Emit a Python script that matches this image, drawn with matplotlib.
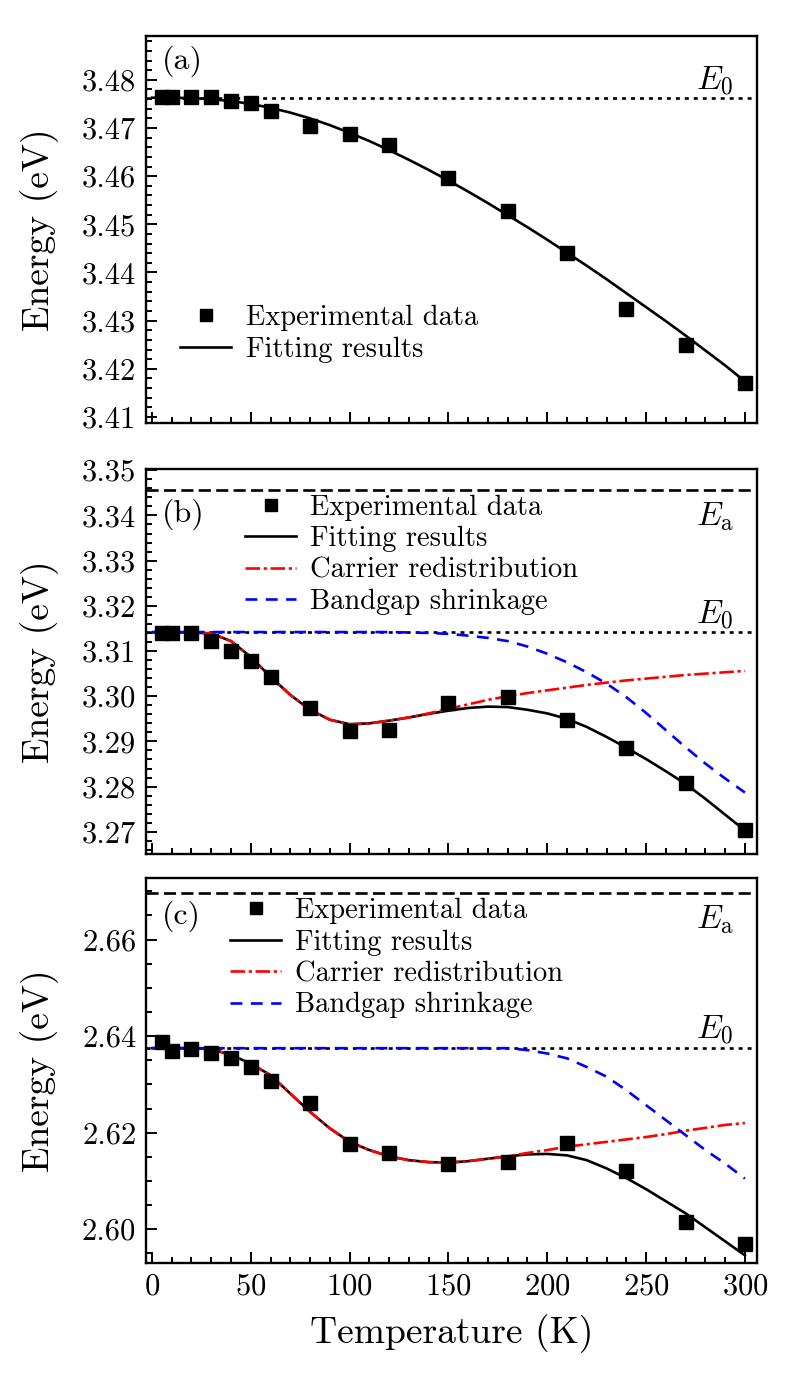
import numpy as np
import matplotlib.pyplot as plt
from matplotlib.ticker import MultipleLocator, FormatStrFormatter

plt.rcParams['font.family'] = 'serif'
plt.rcParams['font.serif'] = ['cmr10']
plt.rcParams['mathtext.fontset'] = 'cm'
plt.rcParams['axes.formatter.use_mathtext'] = True

# measured temperatures (K)
T_exp = [5, 10, 20, 30, 40, 50, 60, 80, 100, 120, 150, 180, 210, 240, 270, 300]
T_fit = list(range(0, 301, 10))

# panel (a)
E_exp_a = [3.4765, 3.4765, 3.4765, 3.4765, 3.4756, 3.4752, 3.4736, 3.4704, 3.4688, 3.4665,
           3.4596, 3.4528, 3.4440, 3.4324, 3.4249, 3.4170]
E_fit_a = [3.4763, 3.4763, 3.4762, 3.4760, 3.4756, 3.4750, 3.4742, 3.4732, 3.4720, 3.4706,
           3.4690, 3.4673, 3.4654, 3.4634, 3.4613, 3.4591, 3.4568, 3.4544, 3.4519, 3.4494,
           3.4468, 3.4441, 3.4414, 3.4386, 3.4357, 3.4328, 3.4299, 3.4269, 3.4238, 3.4207,
           3.4174]
E0_a = 3.4763

# panel (b)
E_exp_b = [3.3141, 3.3139, 3.3141, 3.3122, 3.3100, 3.3079, 3.3043, 3.2973, 3.2922, 3.2925,
           3.2986, 3.2999, 3.2948, 3.2885, 3.2808, 3.2703]
E_fit_b = [3.3141, 3.3141, 3.3141, 3.3139, 3.3122, 3.3087, 3.3043, 3.3003, 3.2970, 3.2948,
           3.2938, 3.2940, 3.2946, 3.2953, 3.2961, 3.2968, 3.2974, 3.2977, 3.2976, 3.2970,
           3.2962, 3.2950, 3.2932, 3.2910, 3.2886, 3.2861, 3.2834, 3.2806, 3.2773, 3.2738,
           3.2703]
E_car_b = [3.3141, 3.3141, 3.3141, 3.3139, 3.3122, 3.3087, 3.3043, 3.3003, 3.2970, 3.2948,
           3.2938, 3.2940, 3.2946, 3.2953, 3.2962, 3.2972, 3.2982, 3.2992, 3.3000, 3.3007,
           3.3013, 3.3019, 3.3025, 3.3030, 3.3035, 3.3039, 3.3043, 3.3047, 3.3050, 3.3053,
           3.3056]
E_bg_b = [3.3142, 3.3142, 3.3142, 3.3142, 3.3142, 3.3142, 3.3142, 3.3142, 3.3142, 3.3142,
          3.3142, 3.3142, 3.3142, 3.3141, 3.3140, 3.3138, 3.3134, 3.3129, 3.3122, 3.3110,
          3.3094, 3.3075, 3.3053, 3.3028, 3.2998, 3.2963, 3.2925, 3.2887, 3.2851, 3.2818,
          3.2787]
E0_b = 3.3142
Ea_b = 3.3456

# panel (c)
E_exp_c = [2.6388, 2.6370, 2.6373, 2.6364, 2.6354, 2.6335, 2.6307, 2.6262, 2.6176, 2.6157,
           2.6135, 2.6139, 2.6178, 2.6120, 2.6015, 2.5969]
E_fit_c = [2.6375, 2.6375, 2.6375, 2.6373, 2.6361, 2.6343, 2.6319, 2.6281, 2.6243, 2.6209,
           2.6181, 2.6164, 2.6151, 2.6143, 2.6139, 2.6138, 2.6141, 2.6146, 2.6151, 2.6155,
           2.6156, 2.6153, 2.6143, 2.6126, 2.6106, 2.6083, 2.6058, 2.6033, 2.6004, 2.5975,
           2.5946]
E_car_c = [2.6375, 2.6375, 2.6375, 2.6373, 2.6361, 2.6343, 2.6319, 2.6281, 2.6243, 2.6209,
           2.6181, 2.6164, 2.6151, 2.6143, 2.6139, 2.6138, 2.6141, 2.6146, 2.6151, 2.6158,
           2.6164, 2.6171, 2.6176, 2.6181, 2.6186, 2.6191, 2.6197, 2.6204, 2.6210, 2.6216,
           2.6220]
E_bg_c = [2.6375, 2.6375, 2.6375, 2.6375, 2.6375, 2.6375, 2.6375, 2.6375, 2.6375, 2.6375,
          2.6375, 2.6375, 2.6375, 2.6375, 2.6375, 2.6375, 2.6375, 2.6375, 2.6375, 2.6371,
          2.6364, 2.6354, 2.6336, 2.6316, 2.6288, 2.6257, 2.6226, 2.6195, 2.6164, 2.6136,
          2.6105]
E0_c = 2.6375
Ea_c = 2.6697

fig = plt.figure(figsize=(7.85, 13.76), dpi=100)
ax_a = fig.add_axes([0.186, 0.6928, 0.778, 0.2810])
ax_b = fig.add_axes([0.186, 0.3794, 0.778, 0.2795], sharex=ax_a)
ax_c = fig.add_axes([0.186, 0.0821, 0.778, 0.2800], sharex=ax_a)

ms = 9.6
lw = 1.9
dotted = (0, (1.5, 1.9))
dashed = (0, (4.6, 2.0))

# (a)
ax_a.axhline(E0_a, color='black', lw=lw, ls=dotted)
ax_a.plot(T_fit, E_fit_a, color='black', lw=lw, label='Fitting results', zorder=3)
ax_a.plot(T_exp, E_exp_a, 's', color='black', ms=ms, ls='none',
          label='Experimental data', zorder=4)

# (b) and (c)
for ax, E_exp, E_fit, E_car, E_bg, E0, Ea in [
        (ax_b, E_exp_b, E_fit_b, E_car_b, E_bg_b, E0_b, Ea_b),
        (ax_c, E_exp_c, E_fit_c, E_car_c, E_bg_c, E0_c, Ea_c)]:
    ax.axhline(E0, color='black', lw=lw, ls=dotted)
    ax.axhline(Ea, color='black', lw=lw, ls=dashed)
    ax.plot(T_exp, E_exp, 's', color='black', ms=ms, ls='none',
            label='Experimental data', zorder=4)
    ax.plot(T_fit, E_fit, color='black', lw=lw, label='Fitting results', zorder=3)
    ax.plot(T_fit, E_car, color='#ff0000', lw=lw, ls=(0, (5.5, 1.4, 1.2, 1.4)),
            label='Carrier redistribution', zorder=3)
    ax.plot(T_fit, E_bg, color='#0000ff', lw=lw, ls=(0, (4.5, 3.2)),
            label='Bandgap shrinkage', zorder=3)

ax_a.set_ylim(3.4088, 3.4891)
ax_b.set_ylim(3.2651, 3.3502)
ax_c.set_ylim(2.5930, 2.6728)
ax_a.set_xlim(-3, 306)

ax_a.yaxis.set_major_locator(MultipleLocator(0.01))
ax_a.yaxis.set_minor_locator(MultipleLocator(0.002))
ax_b.yaxis.set_major_locator(MultipleLocator(0.01))
ax_b.yaxis.set_minor_locator(MultipleLocator(0.002))
ax_c.yaxis.set_major_locator(MultipleLocator(0.02))
ax_c.yaxis.set_minor_locator(MultipleLocator(0.005))
ax_c.xaxis.set_major_locator(MultipleLocator(50))
ax_c.xaxis.set_minor_locator(MultipleLocator(10))

for ax in [ax_a, ax_b, ax_c]:
    ax.yaxis.set_major_formatter(FormatStrFormatter('%.2f'))
    ax.tick_params(which='both', direction='in', top=False, right=False,
                   labelsize=22, width=1.4)
    ax.tick_params(which='major', length=8, pad=7)
    ax.tick_params(which='minor', length=4)
    for s in ax.spines.values():
        s.set_linewidth(1.7)
    ax.set_ylabel('Energy (eV)', fontsize=27)
    ax.yaxis.set_label_coords(-0.142, 0.5)

ax_a.tick_params(labelbottom=False)
ax_b.tick_params(labelbottom=False)
ax_c.set_xlabel('Temperature (K)', fontsize=27, labelpad=10)

# panel letters
ax_a.text(0.026, 0.975, '(a)', transform=ax_a.transAxes, fontsize=23, va='top')
ax_b.text(0.026, 0.925, '(b)', transform=ax_b.transAxes, fontsize=23, va='top')
ax_c.text(0.026, 0.94, '(c)', transform=ax_c.transAxes, fontsize=23, va='top')

# level labels
ax_a.text(0.962, E0_a + 0.0001, r'$E_0$', transform=ax_a.get_yaxis_transform(),
          fontsize=24, ha='right', va='bottom')
ax_b.text(0.962, E0_b + 0.0003, r'$E_0$', transform=ax_b.get_yaxis_transform(),
          fontsize=24, ha='right', va='bottom')
ax_b.text(0.962, Ea_b - 0.0023, r'$E_{\rm a}$', transform=ax_b.get_yaxis_transform(),
          fontsize=24, ha='right', va='top')
ax_c.text(0.962, E0_c + 0.0005, r'$E_0$', transform=ax_c.get_yaxis_transform(),
          fontsize=24, ha='right', va='bottom')
ax_c.text(0.962, Ea_c - 0.0022, r'$E_{\rm a}$', transform=ax_c.get_yaxis_transform(),
          fontsize=24, ha='right', va='top')

leg_kw = dict(frameon=False, fontsize=20.5, numpoints=1, handlelength=1.8,
              handletextpad=0.5, labelspacing=0.18, borderpad=0, borderaxespad=0,
              loc='upper left', markerscale=0.85)
h, l = ax_a.get_legend_handles_labels()
ax_a.legend(h[::-1], l[::-1], bbox_to_anchor=(0.056, 0.305), **leg_kw)
ax_b.legend(bbox_to_anchor=(0.162, 0.935), **leg_kw)
ax_c.legend(bbox_to_anchor=(0.1375, 0.948), **leg_kw)

fig.savefig('out.png', dpi=100)
